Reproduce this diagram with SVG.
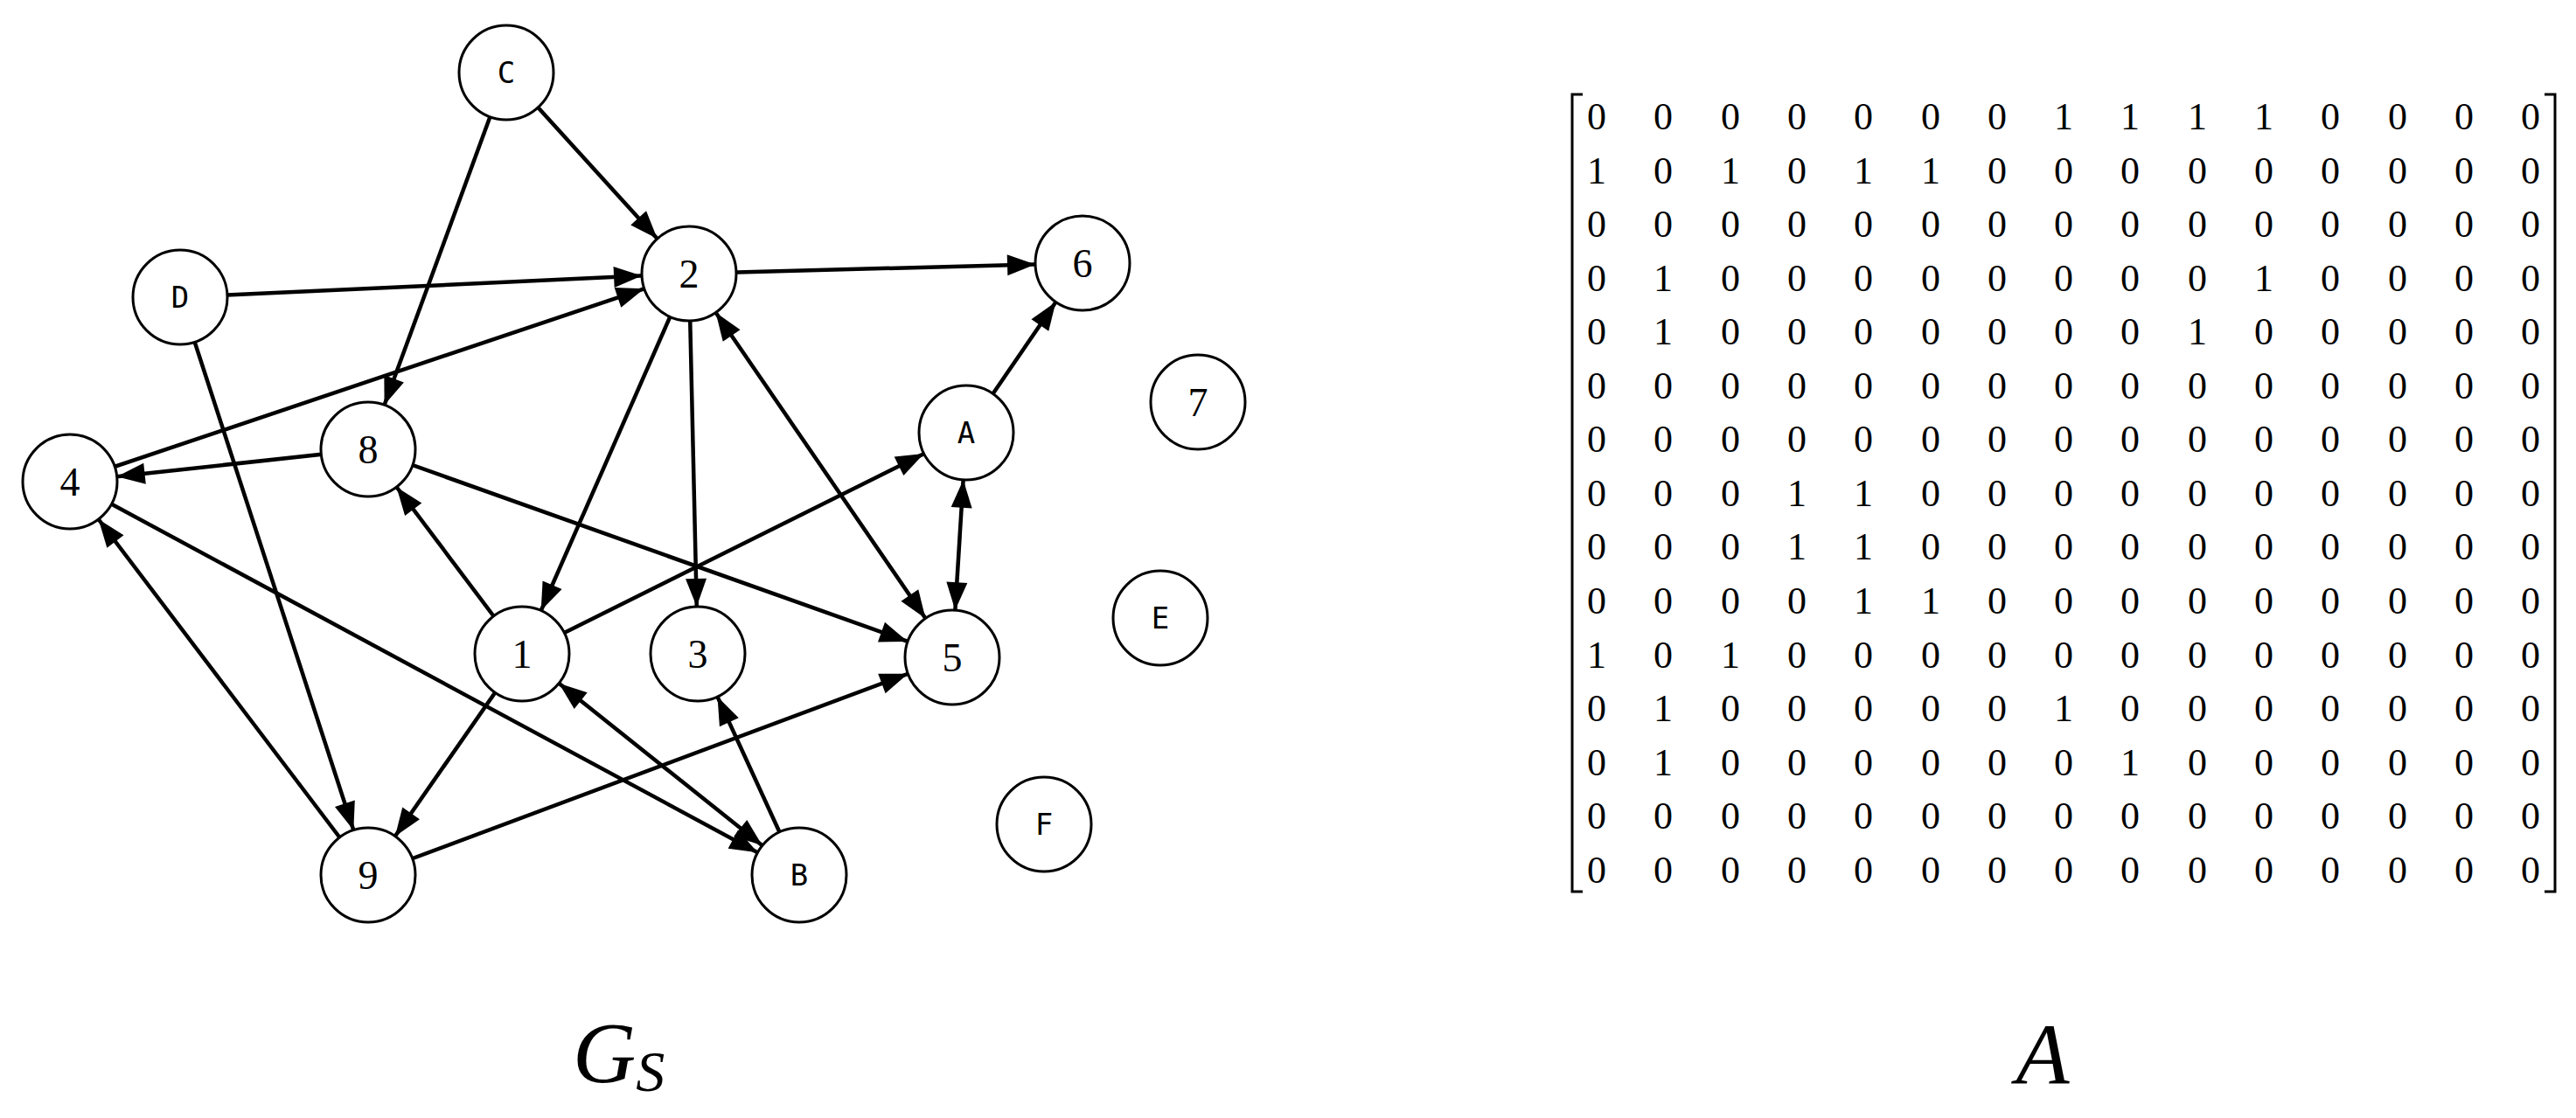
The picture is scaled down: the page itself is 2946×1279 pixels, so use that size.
<svg xmlns="http://www.w3.org/2000/svg" width="2946" height="1279" viewBox="0 0 2946 1279">
<style>
.n circle{fill:#fff;stroke:#000;stroke-width:3}
.d{font-family:"Liberation Serif",serif;font-size:46px;text-anchor:middle;dominant-baseline:central}
.l{font-family:"DejaVu Sans Mono","Liberation Mono",monospace;font-size:34px;text-anchor:middle;dominant-baseline:central}
#edges line{stroke:#000;stroke-width:4.5;marker-end:url(#ah)}
#edges line.b{marker-start:url(#ah)}
.m{font-family:"Liberation Serif",serif;font-size:44px;text-anchor:middle}
</style>
<defs>
<marker id="ah" markerUnits="userSpaceOnUse" markerWidth="40" markerHeight="30" refX="86" refY="0" orient="auto-start-reverse" overflow="visible" viewBox="0 -15 40 30">
<path d="M0,-12 L32,0 L0,12 Z" fill="#000"/>
</marker>
</defs>
<rect width="2946" height="1279" fill="#fff"/>
<g id="edges">
<line x1="579" y1="83" x2="788" y2="313"/>
<line x1="579" y1="83" x2="421" y2="514"/>
<line x1="206" y1="340" x2="788" y2="313"/>
<line x1="206" y1="340" x2="421" y2="1001"/>
<line x1="788" y1="313" x2="1238" y2="301"/>
<line x1="788" y1="313" x2="597" y2="748"/>
<line x1="788" y1="313" x2="798" y2="748"/>
<line class="b" x1="788" y1="313" x2="1089" y2="752"/>
<line x1="80" y1="551" x2="788" y2="313"/>
<line x1="421" y1="514" x2="80" y2="551"/>
<line x1="421" y1="514" x2="1089" y2="752"/>
<line x1="1105" y1="495" x2="1238" y2="301"/>
<line class="b" x1="1105" y1="495" x2="1089" y2="752"/>
<line x1="597" y1="748" x2="421" y2="514"/>
<line x1="597" y1="748" x2="1105" y2="495"/>
<line x1="597" y1="748" x2="421" y2="1001"/>
<line class="b" x1="597" y1="748" x2="914" y2="1001"/>
<line x1="914" y1="1001" x2="798" y2="748"/>
<line x1="80" y1="551" x2="914" y2="1001"/>
<line x1="421" y1="1001" x2="80" y2="551"/>
<line x1="421" y1="1001" x2="1089" y2="752"/>
</g>
<g id="nC" class="n"><circle cx="579" cy="83" r="54"/><text class="l" x="579" y="83">C</text></g>
<g id="n2" class="n"><circle cx="788" cy="313" r="54"/><text class="d" x="788" y="313">2</text></g>
<g id="n6" class="n"><circle cx="1238" cy="301" r="54"/><text class="d" x="1238" y="301">6</text></g>
<g id="nD" class="n"><circle cx="206" cy="340" r="54"/><text class="l" x="206" y="340">D</text></g>
<g id="nA" class="n"><circle cx="1105" cy="495" r="54"/><text class="l" x="1105" y="495">A</text></g>
<g id="n7" class="n"><circle cx="1370" cy="460" r="54"/><text class="d" x="1370" y="460">7</text></g>
<g id="n8" class="n"><circle cx="421" cy="514" r="54"/><text class="d" x="421" y="514">8</text></g>
<g id="n4" class="n"><circle cx="80" cy="551" r="54"/><text class="d" x="80" y="551">4</text></g>
<g id="n1" class="n"><circle cx="597" cy="748" r="54"/><text class="d" x="597" y="748">1</text></g>
<g id="n3" class="n"><circle cx="798" cy="748" r="54"/><text class="d" x="798" y="748">3</text></g>
<g id="n5" class="n"><circle cx="1089" cy="752" r="54"/><text class="d" x="1089" y="752">5</text></g>
<g id="nE" class="n"><circle cx="1327" cy="707" r="54"/><text class="l" x="1327" y="707">E</text></g>
<g id="nF" class="n"><circle cx="1194" cy="943" r="54"/><text class="l" x="1194" y="943">F</text></g>
<g id="n9" class="n"><circle cx="421" cy="1001" r="54"/><text class="d" x="421" y="1001">9</text></g>
<g id="nB" class="n"><circle cx="914" cy="1001" r="54"/><text class="l" x="914" y="1001">B</text></g>
<text x="655" y="1238" font-family="Liberation Serif,serif" font-style="italic" font-size="100">G<tspan font-size="66" dy="10">S</tspan></text>
<text x="2336" y="1240" font-family="Liberation Serif,serif" font-style="italic" font-size="100" text-anchor="middle">A</text>
<path d="M1810,108 H1798 V1020 H1810 M2910,108 H2922 V1020 H2910" fill="none" stroke="#000" stroke-width="3"/>
<g class="m">
<text y="148"><tspan x="1826">0</tspan><tspan x="1902">0</tspan><tspan x="1979">0</tspan><tspan x="2055">0</tspan><tspan x="2131">0</tspan><tspan x="2208">0</tspan><tspan x="2284">0</tspan><tspan x="2360">1</tspan><tspan x="2436">1</tspan><tspan x="2513">1</tspan><tspan x="2589">1</tspan><tspan x="2665">0</tspan><tspan x="2742">0</tspan><tspan x="2818">0</tspan><tspan x="2894">0</tspan></text>
<text y="210"><tspan x="1826">1</tspan><tspan x="1902">0</tspan><tspan x="1979">1</tspan><tspan x="2055">0</tspan><tspan x="2131">1</tspan><tspan x="2208">1</tspan><tspan x="2284">0</tspan><tspan x="2360">0</tspan><tspan x="2436">0</tspan><tspan x="2513">0</tspan><tspan x="2589">0</tspan><tspan x="2665">0</tspan><tspan x="2742">0</tspan><tspan x="2818">0</tspan><tspan x="2894">0</tspan></text>
<text y="271"><tspan x="1826">0</tspan><tspan x="1902">0</tspan><tspan x="1979">0</tspan><tspan x="2055">0</tspan><tspan x="2131">0</tspan><tspan x="2208">0</tspan><tspan x="2284">0</tspan><tspan x="2360">0</tspan><tspan x="2436">0</tspan><tspan x="2513">0</tspan><tspan x="2589">0</tspan><tspan x="2665">0</tspan><tspan x="2742">0</tspan><tspan x="2818">0</tspan><tspan x="2894">0</tspan></text>
<text y="333"><tspan x="1826">0</tspan><tspan x="1902">1</tspan><tspan x="1979">0</tspan><tspan x="2055">0</tspan><tspan x="2131">0</tspan><tspan x="2208">0</tspan><tspan x="2284">0</tspan><tspan x="2360">0</tspan><tspan x="2436">0</tspan><tspan x="2513">0</tspan><tspan x="2589">1</tspan><tspan x="2665">0</tspan><tspan x="2742">0</tspan><tspan x="2818">0</tspan><tspan x="2894">0</tspan></text>
<text y="394"><tspan x="1826">0</tspan><tspan x="1902">1</tspan><tspan x="1979">0</tspan><tspan x="2055">0</tspan><tspan x="2131">0</tspan><tspan x="2208">0</tspan><tspan x="2284">0</tspan><tspan x="2360">0</tspan><tspan x="2436">0</tspan><tspan x="2513">1</tspan><tspan x="2589">0</tspan><tspan x="2665">0</tspan><tspan x="2742">0</tspan><tspan x="2818">0</tspan><tspan x="2894">0</tspan></text>
<text y="456"><tspan x="1826">0</tspan><tspan x="1902">0</tspan><tspan x="1979">0</tspan><tspan x="2055">0</tspan><tspan x="2131">0</tspan><tspan x="2208">0</tspan><tspan x="2284">0</tspan><tspan x="2360">0</tspan><tspan x="2436">0</tspan><tspan x="2513">0</tspan><tspan x="2589">0</tspan><tspan x="2665">0</tspan><tspan x="2742">0</tspan><tspan x="2818">0</tspan><tspan x="2894">0</tspan></text>
<text y="517"><tspan x="1826">0</tspan><tspan x="1902">0</tspan><tspan x="1979">0</tspan><tspan x="2055">0</tspan><tspan x="2131">0</tspan><tspan x="2208">0</tspan><tspan x="2284">0</tspan><tspan x="2360">0</tspan><tspan x="2436">0</tspan><tspan x="2513">0</tspan><tspan x="2589">0</tspan><tspan x="2665">0</tspan><tspan x="2742">0</tspan><tspan x="2818">0</tspan><tspan x="2894">0</tspan></text>
<text y="579"><tspan x="1826">0</tspan><tspan x="1902">0</tspan><tspan x="1979">0</tspan><tspan x="2055">1</tspan><tspan x="2131">1</tspan><tspan x="2208">0</tspan><tspan x="2284">0</tspan><tspan x="2360">0</tspan><tspan x="2436">0</tspan><tspan x="2513">0</tspan><tspan x="2589">0</tspan><tspan x="2665">0</tspan><tspan x="2742">0</tspan><tspan x="2818">0</tspan><tspan x="2894">0</tspan></text>
<text y="640"><tspan x="1826">0</tspan><tspan x="1902">0</tspan><tspan x="1979">0</tspan><tspan x="2055">1</tspan><tspan x="2131">1</tspan><tspan x="2208">0</tspan><tspan x="2284">0</tspan><tspan x="2360">0</tspan><tspan x="2436">0</tspan><tspan x="2513">0</tspan><tspan x="2589">0</tspan><tspan x="2665">0</tspan><tspan x="2742">0</tspan><tspan x="2818">0</tspan><tspan x="2894">0</tspan></text>
<text y="702"><tspan x="1826">0</tspan><tspan x="1902">0</tspan><tspan x="1979">0</tspan><tspan x="2055">0</tspan><tspan x="2131">1</tspan><tspan x="2208">1</tspan><tspan x="2284">0</tspan><tspan x="2360">0</tspan><tspan x="2436">0</tspan><tspan x="2513">0</tspan><tspan x="2589">0</tspan><tspan x="2665">0</tspan><tspan x="2742">0</tspan><tspan x="2818">0</tspan><tspan x="2894">0</tspan></text>
<text y="764"><tspan x="1826">1</tspan><tspan x="1902">0</tspan><tspan x="1979">1</tspan><tspan x="2055">0</tspan><tspan x="2131">0</tspan><tspan x="2208">0</tspan><tspan x="2284">0</tspan><tspan x="2360">0</tspan><tspan x="2436">0</tspan><tspan x="2513">0</tspan><tspan x="2589">0</tspan><tspan x="2665">0</tspan><tspan x="2742">0</tspan><tspan x="2818">0</tspan><tspan x="2894">0</tspan></text>
<text y="825"><tspan x="1826">0</tspan><tspan x="1902">1</tspan><tspan x="1979">0</tspan><tspan x="2055">0</tspan><tspan x="2131">0</tspan><tspan x="2208">0</tspan><tspan x="2284">0</tspan><tspan x="2360">1</tspan><tspan x="2436">0</tspan><tspan x="2513">0</tspan><tspan x="2589">0</tspan><tspan x="2665">0</tspan><tspan x="2742">0</tspan><tspan x="2818">0</tspan><tspan x="2894">0</tspan></text>
<text y="887"><tspan x="1826">0</tspan><tspan x="1902">1</tspan><tspan x="1979">0</tspan><tspan x="2055">0</tspan><tspan x="2131">0</tspan><tspan x="2208">0</tspan><tspan x="2284">0</tspan><tspan x="2360">0</tspan><tspan x="2436">1</tspan><tspan x="2513">0</tspan><tspan x="2589">0</tspan><tspan x="2665">0</tspan><tspan x="2742">0</tspan><tspan x="2818">0</tspan><tspan x="2894">0</tspan></text>
<text y="948"><tspan x="1826">0</tspan><tspan x="1902">0</tspan><tspan x="1979">0</tspan><tspan x="2055">0</tspan><tspan x="2131">0</tspan><tspan x="2208">0</tspan><tspan x="2284">0</tspan><tspan x="2360">0</tspan><tspan x="2436">0</tspan><tspan x="2513">0</tspan><tspan x="2589">0</tspan><tspan x="2665">0</tspan><tspan x="2742">0</tspan><tspan x="2818">0</tspan><tspan x="2894">0</tspan></text>
<text y="1010"><tspan x="1826">0</tspan><tspan x="1902">0</tspan><tspan x="1979">0</tspan><tspan x="2055">0</tspan><tspan x="2131">0</tspan><tspan x="2208">0</tspan><tspan x="2284">0</tspan><tspan x="2360">0</tspan><tspan x="2436">0</tspan><tspan x="2513">0</tspan><tspan x="2589">0</tspan><tspan x="2665">0</tspan><tspan x="2742">0</tspan><tspan x="2818">0</tspan><tspan x="2894">0</tspan></text>
</g>
</svg>
